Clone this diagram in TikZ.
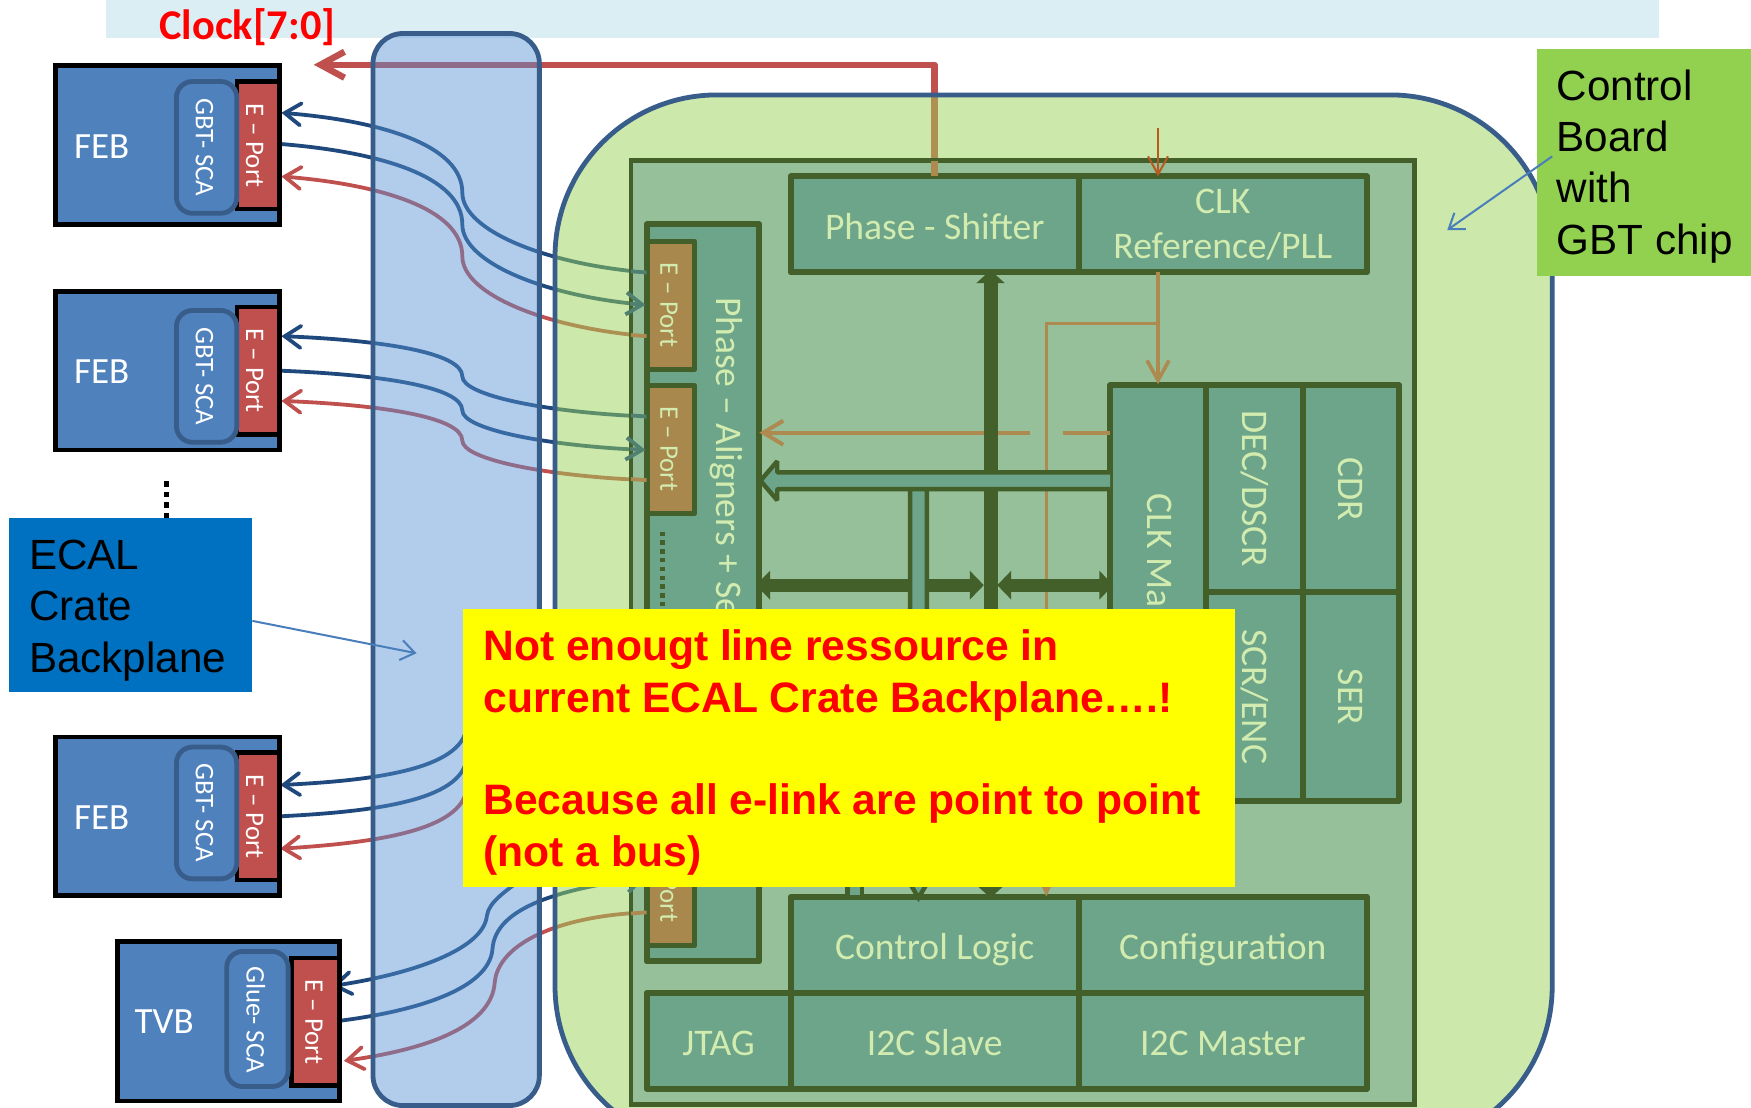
\documentclass[tikz,border=0pt]{standalone}
\usepackage{fontspec}
\setmainfont{Carlito}
\newfontfamily\arialf{Liberation Sans}
\usetikzlibrary{arrows.meta,calc}
\def\uu{0.55835pt}
\definecolor{barC}{HTML}{DAEEF3}
\definecolor{febC}{HTML}{4F81BD}
\definecolor{febE}{HTML}{385D8A}
\definecolor{redC}{HTML}{C0504D}
\definecolor{navyC}{HTML}{1F497D}
\definecolor{planeF}{HTML}{5590D3}
\definecolor{boardF}{HTML}{9BD359}
\definecolor{innerF}{HTML}{95C09A}
\definecolor{blkF}{HTML}{6DA58A}
\definecolor{darkG}{HTML}{44602A}
\definecolor{txtG}{HTML}{D2EBAF}
\definecolor{tanC}{HTML}{AD8A50}
\definecolor{tanP}{HTML}{A9884D}
\definecolor{tealC}{HTML}{4F8070}
\definecolor{thinB}{HTML}{4A7EBB}
\definecolor{brownC}{HTML}{B8591E}
\definecolor{ecalC}{HTML}{0070C0}
\definecolor{ctrlC}{HTML}{92D050}
\definecolor{noteY}{HTML}{FFFF00}
\definecolor{noteR}{HTML}{FF0000}
\tikzset{
 x=\uu,y=-\uu,
 every node/.style={inner sep=0pt,outer sep=0pt},
 feb/.style={draw=black,fill=febC,line width=2.4pt},
 gbtbox/.style={draw=febE,fill=febC,line width=2.4pt,rounded corners=8pt},
 portred/.style={draw=black,fill=redC,line width=2.2pt},
 wt/.style={text=white,font=\fontsize{13.4}{15}\selectfont},
 febtxt/.style={text=white,font=\fontsize{18.5}{22}\selectfont},
 inner/.style={draw=darkG,fill=innerF,line width=2.4pt},
 blk/.style={draw=darkG,fill=blkF,line width=3pt,line join=round,text=txtG,font=\fontsize{18.8}{22.4}\selectfont,align=center,execute at begin node={\rule{0pt}{15pt}}},
 ptan/.style={draw=darkG,fill=tanP,line width=2.6pt,line join=round},
 gt/.style={text=txtG,font=\fontsize{13.4}{15}\selectfont},
 gtb/.style={text=txtG,font=\fontsize{18.8}{22}\selectfont},
 barbtip/.tip={Straight Barb[length=8pt,width=11pt,line cap=round]},
 linkblue/.style={draw=navyC,line width=1.9pt,line cap=round},
 linkred/.style={draw=redC,line width=1.9pt,line cap=round},
 stubteal/.style={draw=tealC,line width=1.9pt},
 stubtan/.style={draw=tanC,line width=1.9pt},
 thinlink/.style={draw=thinB,line width=1pt,-{Straight Barb[length=7pt,width=10pt]}},
 buspath/.style={draw=darkG,line width=6.4pt},
 bigtip/.tip={Triangle[length=7pt,width=14pt]},
 hollow/.style={draw=darkG,fill=blkF,line width=2.2pt,line join=miter},
 blktxt/.style={text=black,font=\arialf\fontsize{21.1}{25.7}\selectfont,align=left,anchor=west},
 warn/.style={text=noteR,font=\arialf\bfseries\fontsize{21.3}{25.7}\selectfont,align=left,anchor=north west},
}
% box from its corners
\newcommand\bx[7]{\node[#1,minimum width={((#5)-(#3))*\uu},minimum height={((#6)-(#4))*\uu}] (#2) at ({((#3)+(#5))/2},{((#4)+(#6))/2}) {#7};}
% S-shaped link running through the bend at x=414
\newcommand\scurve[3]{\draw[#1] let \p1=(#2),\p2=(#3) in (\p1) .. controls ({340*\uu},{\y1+.05*(\y2-\y1)}) and ({414*\uu},{\y1+.2*(\y2-\y1)}) .. ({414*\uu},{\y1+.5*(\y2-\y1)}) .. controls ({414*\uu},{\y1+.74*(\y2-\y1)}) and ({490*\uu},{\y1+.95*(\y2-\y1)}) .. (\p2);}
% FEB card: name, y shift, y of SCA centre, y of port centre
\newcommand\febcard[4]{
 \bx{feb}{#1box}{50}{59+#2}{250}{201+#2}{}
 \bx{portred}{#1port}{212}{#4-57}{250}{#4+57}{}
 \bx{gbtbox}{#1sca}{158}{#3-59}{212}{#3+59}{}
 \node[febtxt] (#1lab) at (91,{#4+1}) {FEB};
 \node[wt] (#1scat) at (183,#3) {\rotatebox{-90}{GBT- SCA}};
 \node[wt] (#1portt) at (228,#4) {\rotatebox{-90}{E – Port}};
}
\begin{document}
\begin{tikzpicture}
\useasboundingbox (0,0) rectangle (1568,992);
\clip (0,0) rectangle (1568,992);
\fill[white] (0,0) rectangle (1568,992);
\bx{fill=barC}{topbar}{95}{-2}{1486}{34}{}
\node[text=noteR,font=\bfseries\fontsize{21.2}{24}\selectfont] (clock) at (221.5,24) {Clock[7:0]};
% end points of the links
\coordinate (clkA) at (837,158); \coordinate (clkB) at (837,58); \coordinate (clkC) at (281,58);
\coordinate (a1) at (252,101); \coordinate (a2) at (252,129); \coordinate (a3) at (252,158);
\coordinate (p1) at (579,244); \coordinate (p2) at (578,273); \coordinate (p3) at (579,301);
\coordinate (b1) at (252,301); \coordinate (b2) at (252,332); \coordinate (b3) at (252,359);
\coordinate (q1) at (579,373); \coordinate (q2) at (578,403); \coordinate (q3) at (579,430);
\coordinate (t1) at (297,883); \coordinate (t2) at (305,914); \coordinate (t3) at (308,950);
\coordinate (r1) at (470,785); \coordinate (r2) at (578,786); \coordinate (r3) at (579,817);
% links that pass behind the translucent panels
\draw[draw=redC,line width=3.2pt,line cap=round,line join=round,-{Straight Barb[length=12pt,width=13pt]}] (clkA) -- (clkB) -- (clkC);
\scurve{linkblue,barbtip-}{a1}{p1}
\scurve{linkblue}{a2}{p2}
\scurve{linkred,barbtip-}{a3}{p3}
\scurve{linkblue,barbtip-}{b1}{q1}
\scurve{linkblue}{b2}{q2}
\scurve{linkred,barbtip-}{b3}{q3}
\coordinate (c1) at (251,703); \coordinate (c2) at (251,731); \coordinate (c3) at (251,760);
\coordinate (d1) at (418,650); \coordinate (d2) at (418,678); \coordinate (d3) at (418,705);
\draw[linkblue,barbtip-] (c1) .. controls (330,699) and (415,690) .. (d1);
\draw[linkblue] (c2) .. controls (330,727) and (415,718) .. (d2);
\draw[linkred,barbtip-] (c3) .. controls (330,755) and (415,745) .. (d3);
\draw[linkblue,barbtip-] (t1) .. controls (370,872) and (433,850) .. (436,820) .. controls (438,808) and (450,800) .. (r1);
\draw[linkblue] (t2) .. controls (375,905) and (438,885) .. (441,850) .. controls (443,820) and (480,798) .. (r2);
\draw[linkred,barbtip-] (t3) .. controls (380,940) and (440,920) .. (443,880) .. controls (446,845) and (500,820) .. (r3);
% translucent panels
\bx{draw=febE,fill=planeF,fill opacity=.45,line width=2.4pt,rounded corners=15pt}{plane}{334}{30}{483}{990}{}
\bx{draw=febE,fill=boardF,fill opacity=.5,line width=2.4pt,rounded corners=81pt}{board}{497}{85}{1390}{1028}{}
% chip
\bx{inner}{chip}{565}{144}{1267}{989}{}
\bx{blk}{shift}{708}{158}{966}{244}{Phase - Shifter}
\bx{blk}{pll}{966}{158}{1224}{244}{CLK\\Reference/PLL}
\bx{blk}{align}{579}{201}{680}{861}{}
\node[gtb,anchor=west,rotate=-90] (alignt) at (650,266) {Phase – Aligners + Se};
\bx{ptan}{pa}{580}{216}{622}{331}{}
\bx{ptan}{pb}{580}{345}{622}{460}{}
\bx{ptan}{pc}{580}{730}{622}{847}{}
\node[gt] (pat) at (599,273) {\rotatebox{-90}{E – Port}};
\node[gt] (pbt) at (599,402) {\rotatebox{-90}{E – Port}};
\node[gt] (pct) at (599,788) {\rotatebox{-90}{E – Port}};
\draw[draw=darkG,line width=2.4pt,dash pattern=on 2.2pt off 2.2pt] (593,476) -- (593,548);
\bx{blk}{clkm}{994}{345}{1080}{717}{}
\bx{blk}{dec}{1080}{345}{1167}{530}{}
\bx{blk}{cdr}{1167}{345}{1253}{530}{}
\bx{blk}{scr}{1080}{530}{1167}{717}{}
\bx{blk}{ser}{1167}{530}{1253}{717}{}
\node[gtb,anchor=west,rotate=-90] (clkmt) at (1038,442) {CLK Ma};
\node[gtb] (dect) at (1124,438) {\rotatebox{-90}{DEC/DSCR}};
\node[gtb] (cdrt) at (1209,438) {\rotatebox{-90}{CDR}};
\node[gtb] (scrt) at (1124,624) {\rotatebox{-90}{SCR/ENC}};
\node[gtb] (sert) at (1209,624) {\rotatebox{-90}{SER}};
\bx{blk}{logic}{708}{803}{966}{889}{\rule{0pt}{17.5pt}Control Logic}
\bx{blk}{conf}{966}{803}{1224}{889}{\rule{0pt}{17.5pt}Configuration}
\bx{blk}{jtag}{579}{889}{708}{975}{JTAG}
\bx{blk}{slave}{708}{889}{966}{975}{I2C Slave}
\bx{blk}{master}{966}{889}{1224}{975}{I2C Master}
% links drawn over the chip
\draw[stubteal] ($(p1)+(-14,-1)$) -- (p1);
\draw[stubteal,-{Straight Barb[length=8pt,width=11pt]}] ($(p2)+(-14,-1)$) -- (p2);
\draw[stubtan] ($(p3)+(-14,-1)$) -- (p3);
\draw[stubteal] ($(q1)+(-14,-1)$) -- (q1);
\draw[stubteal,-{Straight Barb[length=8pt,width=11pt]}] ($(q2)+(-14,-1)$) -- (q2);
\draw[stubtan] ($(q3)+(-14,-1)$) -- (q3);
\draw[stubteal,-{Straight Barb[length=8pt,width=11pt]}] ($(r2)+(-16,3)$) -- (r2);
\draw[stubtan] ($(r3)+(-14,1)$) -- (r3);
\draw[draw=tanC,line width=3.2pt] (clkA) -- (837,144);
% clock lines inside the chip
\coordinate (refA) at (1037,115);
\draw[draw=brownC,line width=1pt,-{Straight Barb[length=9pt,width=10pt]}] (refA) -- (pll.north -| refA);
\coordinate (refB) at (1037,244); \coordinate (refC) at (1037,344); \coordinate (refD) at (1037,290); \coordinate (refE) at (937,290); \coordinate (refF) at (937,803);
\draw[draw=tanC,line width=1.8pt,-{Straight Barb[length=10pt,width=11pt]}] (refB) -- (refC);
\draw[draw=tanC,line width=1.6pt,-{Triangle[length=8pt,width=7pt]}] (refD) -- (refE) -- (refF);
\coordinate (tanA) at (994,387.5); \coordinate (tanB) at (952,387.5); \coordinate (tanC1) at (922,387.5); \coordinate (tanD) at (680,387.5);
\draw[draw=tanC,line width=2pt] (tanA) -- (tanB);
\draw[draw=tanC,line width=2pt,-{Straight Barb[length=10pt,width=12pt]}] (tanC1) -- (tanD);
% buses
\coordinate (busT) at (887,242); \coordinate (busB) at (887,804);
\draw[buspath,line width=7pt,{Triangle[length=6.5pt,width=14pt]}-{Triangle[length=6.5pt,width=14pt]}] (busT) -- (busB);
\coordinate (hA) at (677,524); \coordinate (hB) at (881,524); \coordinate (hC) at (893,524); \coordinate (hD) at (997,524);
\draw[buspath,bigtip-bigtip] (hA) -- (hB);
\draw[buspath,bigtip-bigtip] (hC) -- (hD);
\draw[hollow] (815,438) -- (815,783) -- (810,783) -- (822.5,804) -- (835,783) -- (830,783) -- (830,438);
\draw[hollow] (759,780) -- (759,803) -- (772,803) -- (772,780);
\draw[hollow,line join=bevel] (clkm.west |- 0,423) -- (696,423) -- (696,413) -- (681,430.5) -- (696,448) -- (696,438) -- (clkm.west |- 0,438);
% cards
\febcard{fa}{0}{132}{130}
\febcard{fb}{202}{337}{332}
\febcard{fc}{601}{728}{731}
\bx{feb}{tvb}{105}{843}{304}{986}{}
\bx{portred}{tvbp}{261}{858}{304}{972}{}
\bx{gbtbox}{tvbs}{203}{852}{258}{973}{}
\node[febtxt] (tvbt) at (147,915) {TVB};
\node[wt] (tvbst) at (229,913) {\rotatebox{-90}{Glue- SCA}};
\node[wt] (tvbpt) at (281,915) {\rotatebox{-90}{E – Port}};
% ellipsis
\coordinate (elA) at (149,431); \coordinate (elB) at (149,466);
\draw[draw=black,line width=2.6pt,dash pattern=on 2.8pt off 2.4pt] (elA) -- (elB);
% call-outs
\bx{fill=ecalC}{ecal}{8}{464}{226}{620}{}
\node[blktxt] (ecalt) at (26,546.5) {ECAL\\Crate\\Backplane};
\coordinate (ecalP) at (373,585);
\draw[thinlink] (ecal.east |- 0,556) -- (ecalP);
\bx{fill=ctrlC}{ctrl}{1376}{44}{1570}{247}{}
\node[blktxt] (ctrlt) at (1394,149) {Control\\Board\\with\\GBT chip};
\coordinate (ctrlP) at (1296,206);
\draw[thinlink] (1390,140) -- (ctrlP);
\bx{fill=noteY}{note}{415}{545}{1106}{794}{}
\node[warn] (notet) at (433,564) {Not enougt line ressource in\\current ECAL Crate Backplane….!\\[25.7pt]Because all e-link are point to point\\(not a bus)};
\end{tikzpicture}
\end{document}
